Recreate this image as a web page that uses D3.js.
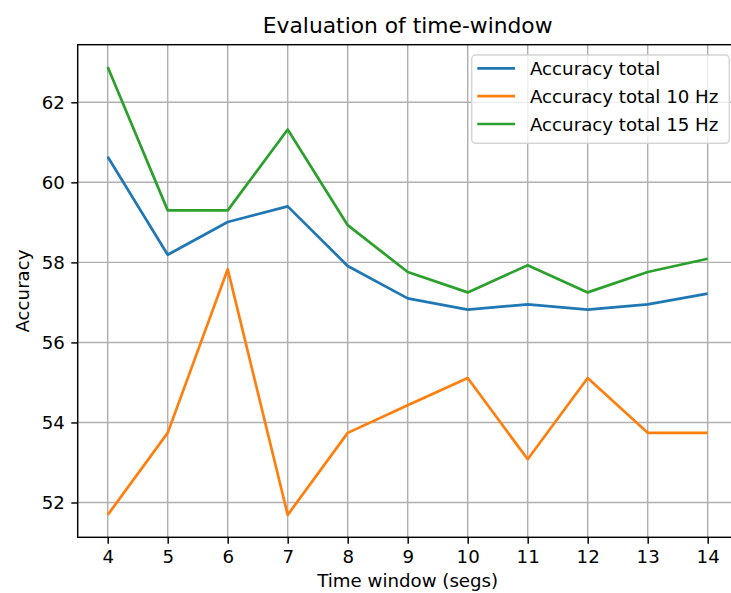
<!DOCTYPE html>
<html>
<head>
<meta charset="utf-8">
<script src="https://cdn.jsdelivr.net/npm/d3@7"></script>
<style>
  html, body { margin: 0; padding: 0; background: #fff; }
  svg { display: block; font-family: "DejaVu Sans", sans-serif; }
</style>
</head>
<body>
<svg id="chart" width="731" height="593"></svg>
<script>
// Time window lengths (seconds) on the x axis
const windows = [4, 5, 6, 7, 8, 9, 10, 11, 12, 13, 14];

// Accuracy per window length
const accTotal   = [60.64, 58.19, 59.01, 59.40, 57.91, 57.10, 56.82, 56.95, 56.82, 56.95, 57.22];
const acc10Hz    = [51.69, 53.74, 57.83, 51.69, 53.74, 54.43, 55.11, 53.08, 55.11, 53.74, 53.74];
const acc15Hz    = [62.88, 59.30, 59.30, 61.32, 58.93, 57.76, 57.25, 57.93, 57.25, 57.76, 58.09];

const seriesNames  = ["Accuracy total", "Accuracy total 10 Hz", "Accuracy total 15 Hz"];
const seriesColors = ["#1f77b4", "#ff7f0e", "#2ca02c"];
const yTicks = [52, 54, 56, 58, 60, 62];

const series = [accTotal, acc10Hz, acc15Hz].map((vals, i) => ({
  name: seriesNames[i],
  color: seriesColors[i],
  points: windows.map((w, j) => ({ x: w, y: vals[j] }))
}));

const svg = d3.select("#chart");
const plot = { left: 77.7, right: 737.7, top: 44.7, bottom: 537.3 };

// 5% padding around the data range on both axes
const xExt = d3.extent(windows);
const xPad = (xExt[1] - xExt[0]) * 0.05;
const allY = [...accTotal, ...acc10Hz, ...acc15Hz];
const yExt = d3.extent(allY);
const yPad = (yExt[1] - yExt[0]) * 0.05;

const x = d3.scaleLinear().domain([xExt[0] - xPad, xExt[1] + xPad]).range([plot.left, plot.right]);
const y = d3.scaleLinear().domain([yExt[0] - yPad, yExt[1] + yPad]).range([plot.bottom, plot.top]);

const gridColor = "#b0b0b0";

// grid
const grid = svg.append("g");
grid.selectAll("line.vx").data(windows).enter().append("line")
  .attr("x1", d => x(d)).attr("x2", d => x(d))
  .attr("y1", plot.top).attr("y2", plot.bottom)
  .attr("stroke", gridColor).attr("stroke-width", 1.45);
grid.selectAll("line.hy").data(yTicks).enter().append("line")
  .attr("x1", plot.left).attr("x2", plot.right)
  .attr("y1", d => y(d)).attr("y2", d => y(d))
  .attr("stroke", gridColor).attr("stroke-width", 1.45);

// series lines
const line = d3.line().x(d => x(d.x)).y(d => y(d.y));
svg.append("g").selectAll("path").data(series).enter().append("path")
  .attr("d", d => line(d.points))
  .attr("fill", "none")
  .attr("stroke", d => d.color)
  .attr("stroke-width", 2.7)
  .attr("stroke-linejoin", "round")
  .attr("stroke-linecap", "butt");

// axes
const xAxis = d3.axisBottom(x).tickValues(windows).tickFormat(d3.format("d"))
  .tickSize(6.4).tickPadding(6.4);
const yAxis = d3.axisLeft(y).tickValues(yTicks).tickFormat(d3.format("d"))
  .tickSize(6.4).tickPadding(6.4);

const gx = svg.append("g").attr("transform", `translate(0,${plot.bottom})`).call(xAxis);
const gy = svg.append("g").attr("transform", `translate(${plot.left},0)`).call(yAxis);
[gx, gy].forEach(g => {
  g.select(".domain").remove();
  g.selectAll(".tick line").attr("stroke", "#000").attr("stroke-width", 1.45);
  g.selectAll(".tick text").attr("fill", "#000")
    .style("font-size", "18.2px").style("font-family", "DejaVu Sans, sans-serif");
});

// frame
svg.append("rect")
  .attr("x", plot.left).attr("y", plot.top)
  .attr("width", plot.right - plot.left).attr("height", plot.bottom - plot.top)
  .attr("fill", "none").attr("stroke", "#000").attr("stroke-width", 1.45);

// title and axis labels
svg.append("text")
  .attr("x", (plot.left + plot.right) / 2).attr("y", 32.5)
  .attr("text-anchor", "middle").style("font-size", "21.8px").attr("fill", "#000")
  .text("Evaluation of time-window");

svg.append("text")
  .attr("x", (plot.left + plot.right) / 2).attr("y", 586.5)
  .attr("text-anchor", "middle").style("font-size", "18.2px").attr("fill", "#000")
  .text("Time window (segs)");

svg.append("text")
  .attr("transform", `translate(28.5,${(plot.top + plot.bottom) / 2}) rotate(-90)`)
  .attr("text-anchor", "middle").style("font-size", "18.2px").attr("fill", "#000")
  .text("Accuracy");

// legend
const legend = svg.append("g");
legend.append("rect")
  .attr("x", 471.7).attr("y", 55).attr("width", 257.6).attr("height", 88.3)
  .attr("rx", 4).attr("ry", 4)
  .attr("fill", "#fff").attr("fill-opacity", 0.8)
  .attr("stroke", "#d5d5d5").attr("stroke-width", 1.45);
const items = legend.selectAll("g.item").data(series).enter().append("g")
  .attr("transform", (d, i) => `translate(0,${68.3 + i * 27.85})`);
items.append("line")
  .attr("x1", 477.3).attr("x2", 515).attr("y1", 0).attr("y2", 0)
  .attr("stroke", d => d.color).attr("stroke-width", 2.7);
items.append("text")
  .attr("x", 530).attr("y", 6.6)
  .style("font-size", "18.2px").attr("fill", "#000")
  .text(d => d.name);
</script>
</body>
</html>
